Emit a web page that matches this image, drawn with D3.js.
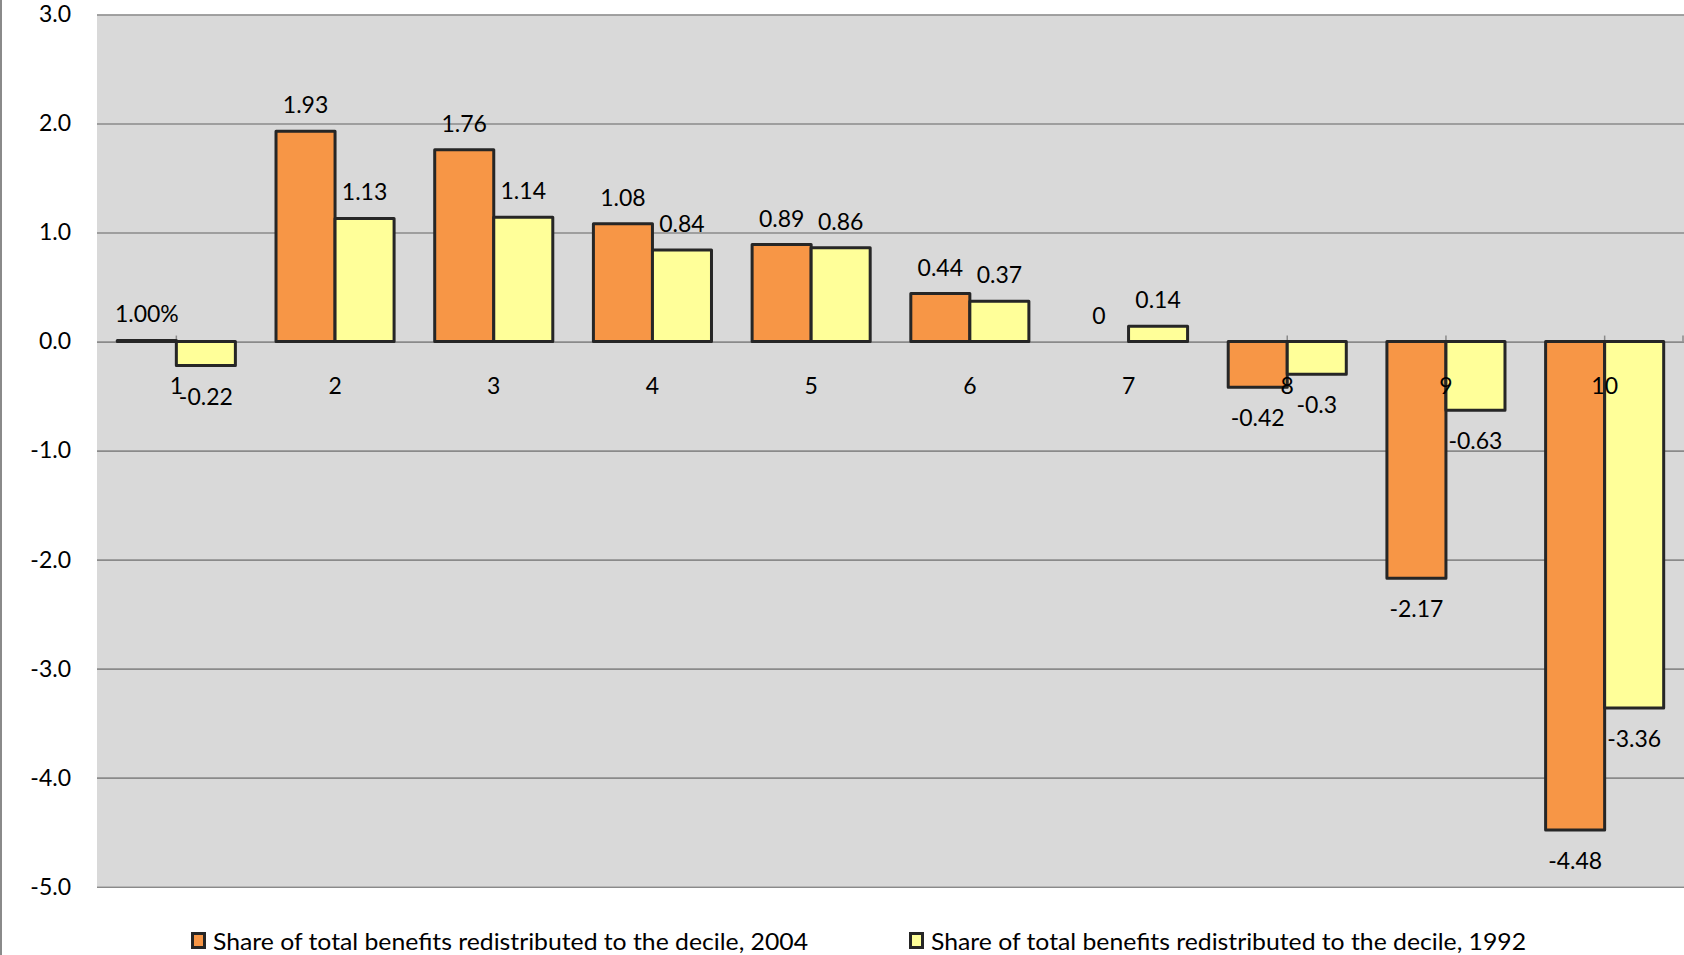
<!DOCTYPE html>
<html>
<head>
<meta charset="utf-8">
<script src="https://cdn.jsdelivr.net/npm/d3@7"></script>
<style>
  html, body { margin: 0; padding: 0; background: #ffffff; }
  svg { display: block; }
  text { font-family: Lato, "Open Sans", "Noto Sans", sans-serif; fill: #000; }
</style>
</head>
<body>
<svg id="chart" width="1684" height="955"></svg>
<script>
// Income deciles and the share of total benefits redistributed to each
const deciles = ["1", "2", "3", "4", "5", "6", "7", "8", "9", "10"];
const share2004 = [0.01, 1.93, 1.76, 1.08, 0.89, 0.44, 0, -0.42, -2.17, -4.48];
const share1992 = [-0.22, 1.13, 1.14, 0.84, 0.86, 0.37, 0.14, -0.3, -0.63, -3.36];
const seriesNames = [
  "Share of total benefits redistributed to the decile, 2004",
  "Share of total benefits redistributed to the decile, 1992"
];
const yTicks = [3, 2, 1, 0, -1, -2, -3, -4, -5];

const series = [
  { key: "s2004", name: seriesNames[0], values: share2004, fill: "#F79646" },
  { key: "s1992", name: seriesNames[1], values: share1992, fill: "#FFFF99" }
];

// The first 2004 value is shown as a percentage, the rest as plain numbers
function labelText(seriesKey, i, v) {
  if (seriesKey === "s2004" && i === 0) return d3.format(".2%")(v);
  return String(v);
}

const W = 1684, H = 955;
const plot = { left: 97, right: 1684, top: 14.5, bottom: 886.7 };

const svg = d3.select("#chart");

// Outer frame edge on the left
svg.append("line")
  .attr("x1", 1).attr("x2", 1).attr("y1", 0).attr("y2", H)
  .attr("stroke", "#8a8a8a").attr("stroke-width", 2);

const y = d3.scaleLinear().domain([-5, 3]).range([plot.bottom, plot.top]);
const x0 = d3.scaleBand().domain(deciles).range([plot.left, plot.right])
  .paddingInner(0.256).paddingOuter(0.128);
const x1 = d3.scaleBand().domain(series.map(s => s.key)).range([0, x0.bandwidth()]);

// Plot area background
svg.append("rect")
  .attr("x", plot.left).attr("y", plot.top)
  .attr("width", plot.right - plot.left).attr("height", plot.bottom - plot.top)
  .attr("fill", "#D9D9D9");

// Horizontal gridlines and value axis labels
const yAxis = d3.axisLeft(y).tickValues(yTicks)
  .tickSize(-(plot.right - plot.left)).tickPadding(26)
  .tickFormat(d => d.toFixed(1));
const gy = svg.append("g").attr("transform", `translate(${plot.left},0)`).call(yAxis);
gy.select(".domain").remove();
gy.selectAll(".tick line").attr("stroke", "#8a8a8a").attr("stroke-width", 1.6);
gy.selectAll(".tick text")
  .attr("font-size", 23).attr("fill", "#000")
  .style("font-family", "Lato, 'Open Sans', sans-serif");

// Small category tick marks on the zero line
const tickXs = deciles.map(d => x0(d) + x0.bandwidth() / 2).concat([plot.right - 1]);
svg.append("g").selectAll("line").data(tickXs).join("line")
  .attr("x1", d => d).attr("x2", d => d)
  .attr("y1", y(0)).attr("y2", y(0) - 6)
  .attr("stroke", "#8a8a8a").attr("stroke-width", 1.5);

// Bars
const barData = [];
series.forEach(s => s.values.forEach((v, i) => barData.push({
  key: s.key, fill: s.fill, decile: deciles[i], i, value: v
})));

svg.append("g").selectAll("rect").data(barData).join("rect")
  .attr("x", d => x0(d.decile) + x1(d.key))
  .attr("width", x1.bandwidth())
  .attr("y", d => y(Math.max(0, d.value)))
  .attr("height", d => Math.abs(y(d.value) - y(0)))
  .attr("fill", d => d.fill)
  .attr("stroke", d => d.value === 0 ? "none" : "#262626")
  .attr("stroke-width", 3)
  .attr("stroke-linejoin", "round");

// Category labels next to the zero line
svg.append("g").selectAll("text").data(deciles).join("text")
  .attr("x", d => x0(d) + x0.bandwidth() / 2)
  .attr("y", y(0) + 43)
  .attr("text-anchor", "middle")
  .attr("dominant-baseline", "central")
  .attr("font-size", 23)
  .text(d => d);

// Value labels outside the end of each bar
svg.append("g").selectAll("text").data(barData).join("text")
  .attr("x", d => x0(d.decile) + x1(d.key) + x1.bandwidth() / 2)
  .attr("y", d => d.value >= 0 ? y(d.value) - 27 : y(d.value) + 30)
  .attr("text-anchor", "middle")
  .attr("dominant-baseline", "central")
  .attr("font-size", 23)
  .text(d => labelText(d.key, d.i, d.value));

// Legend
const legendItems = [
  { s: series[0], x: 191 },
  { s: series[1], x: 909 }
];
const lg = svg.append("g").selectAll("g").data(legendItems).join("g")
  .attr("transform", d => `translate(${d.x},940)`);
lg.append("rect")
  .attr("x", 1.5).attr("y", -6.5).attr("width", 12).attr("height", 14)
  .attr("fill", d => d.s.fill).attr("stroke", "#262626").attr("stroke-width", 3);
lg.append("text")
  .attr("x", 22).attr("y", 0)
  .attr("dominant-baseline", "central")
  .attr("font-size", 24)
  .attr("textLength", 595).attr("lengthAdjust", "spacingAndGlyphs")
  .text(d => d.s.name);
</script>
</body>
</html>
